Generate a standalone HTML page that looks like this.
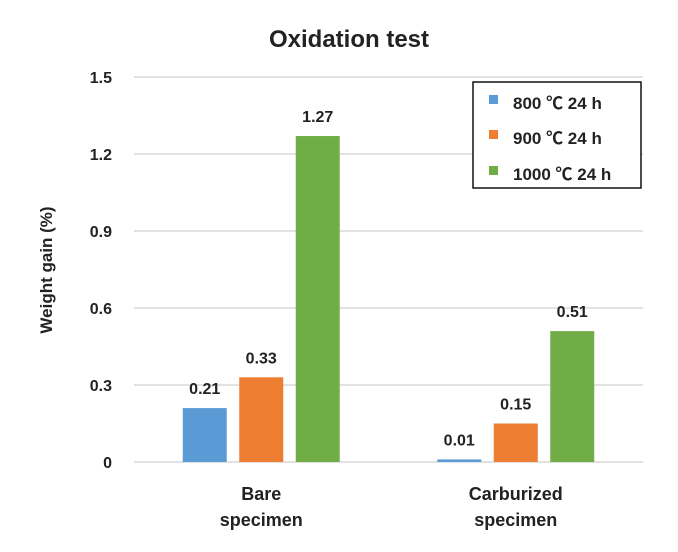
<!DOCTYPE html>
<html><head><meta charset="utf-8"><style>
body{margin:0;background:#fff;}
svg text{font-family:"Liberation Sans","Noto Sans CJK KR",sans-serif;font-weight:bold;fill:#222;}
</style></head><body>
<svg id="chart" width="678" height="547">
<text x="349" y="47" font-size="24" text-anchor="middle">Oxidation test</text>
<text transform="translate(52,270) rotate(-90)" font-size="17" text-anchor="middle">Weight gain (%)</text>
<g id="grid"></g><g id="bars"></g><g id="labels"></g>
<g>
<rect x="473" y="82" width="168" height="106" fill="#fff" stroke="#111" stroke-width="1.5"/>
<rect x="489" y="95" width="9" height="9" fill="#5b9bd5"/>
<text x="513" y="109" font-size="17">800 ℃ 24 h</text>
<rect x="489" y="130" width="9" height="9" fill="#ed7d31"/>
<text x="513" y="144" font-size="17">900 ℃ 24 h</text>
<rect x="489" y="166" width="9" height="9" fill="#70ad47"/>
<text x="513" y="180" font-size="17">1000 ℃ 24 h</text>
</g>
</svg>
<script>
const categories=[["Bare","specimen"],["Carburized","specimen"]];
const s800=[0.21,0.01];
const s900=[0.33,0.15];
const s1000=[1.27,0.51];
const ticks=[0,0.3,0.6,0.9,1.2,1.5];
const tickLabels=["0","0.3","0.6","0.9","1.2","1.5"];
const ns="http://www.w3.org/2000/svg";
const x0=134,x1=643,yb=462,yt=77,ymax=1.5;
const y=v=>yb-(v/ymax)*(yb-yt);
const band=(x1-x0)/categories.length;
const cx=i=>x0+band*(i+0.5);
function mk(t,a,p){const e=document.createElementNS(ns,t);for(const k in a)e.setAttribute(k,a[k]);document.getElementById(p).appendChild(e);return e;}
ticks.forEach((t,i)=>{
 const l=mk('line',{x1:x0,x2:x1,y1:y(t),y2:y(t),stroke:'#d9d9d9','stroke-width':1.5},'grid');
 
 
 const tx=mk('text',{x:112,y:y(t)+6,'font-size':16,'text-anchor':'end'},'grid');
 tx.textContent=tickLabels[i];
 
 
});
const series=[[s800,'#5b9bd5','800'],[s900,'#ed7d31','900'],[s1000,'#70ad47','1000']];
const bw=44,step=56.5;
categories.forEach((c,i)=>{
 series.forEach((s,j)=>{
  const v=s[0][i];const bx=cx(i)+(j-1)*step-bw/2;
  const r=mk('rect',{x:bx,y:y(v),width:bw,height:yb-y(v),fill:s[1]},'bars');
  
  
  const t=mk('text',{x:bx+bw/2,y:y(v)-14,'font-size':16,'text-anchor':'middle'},'labels');
  t.textContent=v.toFixed(2);
  
  
 });
 c.forEach((w,k)=>{
  const t=mk('text',{x:cx(i),y:500+k*26,'font-size':18,'text-anchor':'middle'},'labels');
  t.textContent=w;
  
  
 });
});
</script>
</body></html>
